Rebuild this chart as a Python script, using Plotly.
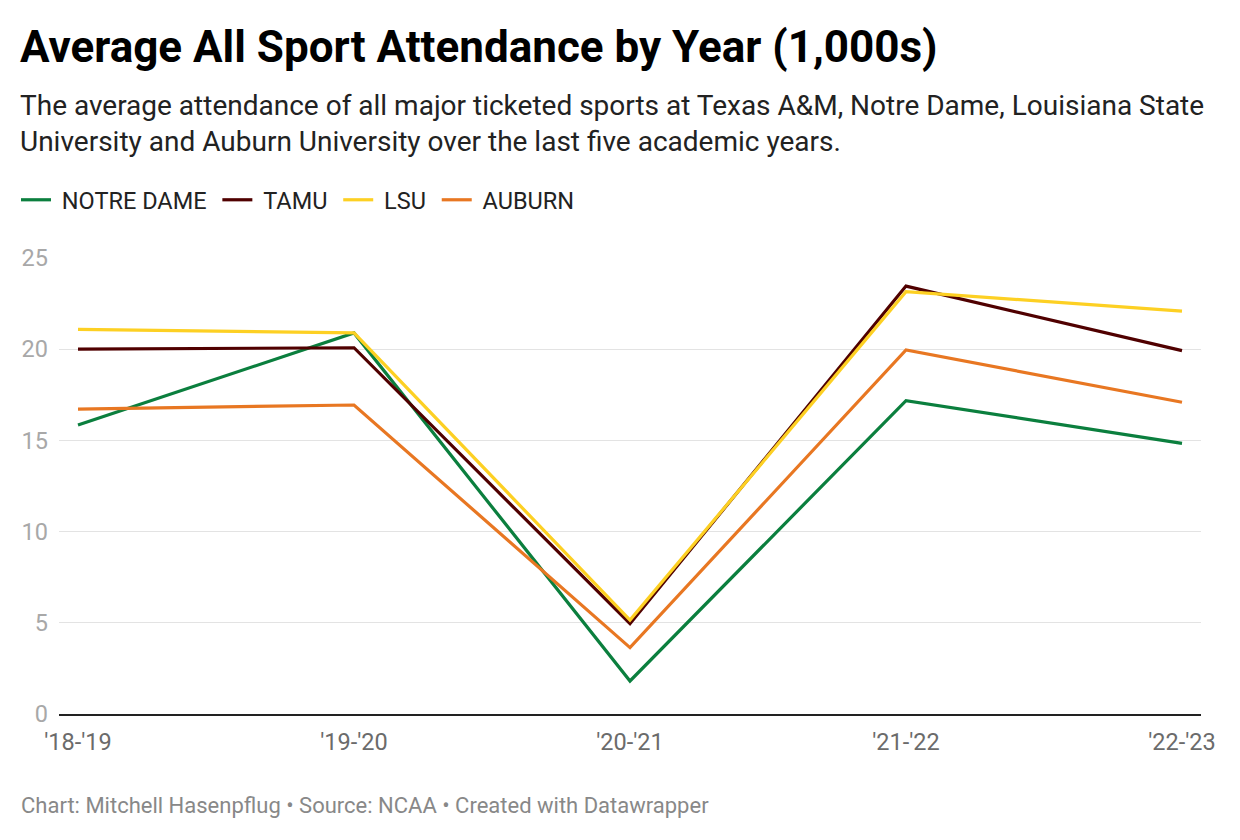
import plotly.graph_objects as go

years = ["'18-'19", "'19-'20", "'20-'21", "'21-'22", "'22-'23"]
notre_dame = [15.84, 20.89, 1.81, 17.18, 14.84]
tamu = [20.0, 20.08, 4.95, 23.46, 19.92]
lsu = [21.09, 20.9, 5.15, 23.15, 22.09]
auburn = [16.72, 16.94, 3.64, 19.96, 17.09]

series = [
    ("NOTRE DAME", notre_dame, "#0b7f3e"),
    ("TAMU", tamu, "#500000"),
    ("LSU", lsu, "#fdd023"),
    ("AUBURN", auburn, "#e87722"),
]

FONT = "Roboto"
NB = "\u00a0"
fig = go.Figure()
xs = list(range(len(years)))
for name, vals, col in series:
    fig.add_trace(go.Scatter(x=xs, y=vals, name=NB + name + NB, mode="lines",
                             line=dict(color=col, width=3.2)))

L, R, T, B = 59, 39, 258, 126
W, H = 1240, 840
pw, ph = W - L - R, H - T - B

def px(x):
    return (x - L) / pw

def py(y):
    return (H - B - y) / ph

fig.update_layout(
    width=W, height=H,
    margin=dict(l=L, r=R, t=T, b=B, autoexpand=False),
    paper_bgcolor="white", plot_bgcolor="white",
    font=dict(family=FONT, color="#222"),
    showlegend=True,
    legend=dict(orientation="h", x=px(16), y=py(200), xanchor="left", yanchor="middle",
                font=dict(size=23.5, color="#222", family=FONT), itemwidth=30,
                traceorder="normal", bgcolor="rgba(0,0,0,0)"),
    xaxis=dict(range=[-19/276, 4 + 19/276], tickmode="array", tickvals=xs, ticktext=years,
               showgrid=False, zeroline=False, showline=True, linecolor="#222", linewidth=2,
               ticks="", ticklabelstandoff=6,
               tickfont=dict(size=23.5, color="#6b6b6b", family=FONT), fixedrange=True),
    yaxis=dict(range=[0, 25], tickvals=[0, 5, 10, 15, 20, 25], showgrid=True,
               gridcolor="#e3e3e3", gridwidth=1, zeroline=False, showline=False, ticks="",
               ticklabelstandoff=10,
               tickfont=dict(size=23.5, color="#a8a8a8", family=FONT), fixedrange=True),
    annotations=[
        dict(text="<b>Average All Sport Attendance by Year (1,000s)</b>", xref="paper", yref="paper",
             x=px(18), y=py(47), xanchor="left", yanchor="middle", showarrow=False,
             font=dict(size=44, color="#000", family=FONT)),
        dict(text="The average attendance of all major ticketed sports at Texas A&M, Notre Dame, Louisiana State<br>University and Auburn University over the last five academic years.",
             xref="paper", yref="paper", x=px(18), y=py(123), xanchor="left", yanchor="middle",
             showarrow=False, align="left",
             font=dict(size=28.0, color="#222", family=FONT)),
        dict(text="Chart: Mitchell Hasenpflug • Source: NCAA • Created with Datawrapper",
             xref="paper", yref="paper", x=px(19), y=py(805), xanchor="left", yanchor="middle",
             showarrow=False, font=dict(size=22, color="#888", family=FONT)),
    ],
)

fig.write_html("out.html")
